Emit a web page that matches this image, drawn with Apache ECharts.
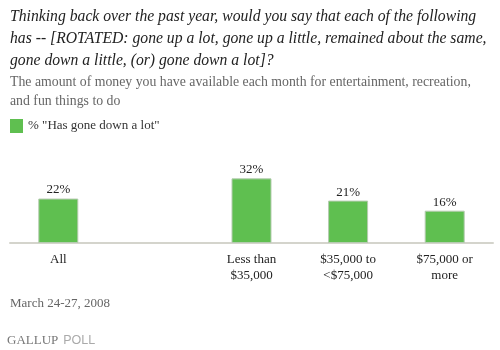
<!DOCTYPE html>
<html>
<head>
<meta charset="utf-8">
<script src="https://cdn.jsdelivr.net/npm/echarts@6/dist/echarts.min.js"></script>
<style>
  html, body { margin: 0; padding: 0; background: #fff; }
  #chart { width: 500px; height: 350px; }
</style>
</head>
<body>
<div id="chart"></div>
<script>
// categories (blank slot keeps the gap after "All")
const categories = ["All", "", "Less than\n$35,000", "$35,000 to\n<$75,000", "$75,000 or\nmore"];
const downALot = [22, null, 32, 21, 16];
const seriesName = '% "Has gone down a lot"';

const serif = "'Liberation Serif', 'DejaVu Serif', serif";

const chart = echarts.init(document.getElementById("chart"));
const option = {
    animation: false,
    title: [{
        text: "Thinking back over the past year, would you say that each of the following\nhas -- [ROTATED: gone up a lot, gone up a little, remained about the same,\ngone down a little, (or) gone down a lot]?",
        left: 10,
        top: 6,
        padding: 0,
        textStyle: {
            fontFamily: serif,
            fontStyle: "italic",
            fontWeight: "normal",
            fontSize: 15.7,
            lineHeight: 22,
            color: "#222"
        }
    }, {
        text: "The amount of money you have available each month for entertainment, recreation,\nand fun things to do",
        left: 10,
        top: 73,
        padding: 0,
        textStyle: {
            fontFamily: serif,
            fontWeight: "normal",
            fontSize: 13.8,
            lineHeight: 19,
            color: "#666"
        }
    }, {
        text: "March 24-27, 2008",
        left: 10,
        top: 297,
        padding: 0,
        textStyle: {
            fontFamily: serif,
            fontWeight: "normal",
            fontSize: 13,
            color: "#666"
        }
    }, {
        text: "{a|GALLUP} {b|POLL}",
        left: 7,
        top: 332,
        padding: 0,
        textStyle: {
            fontWeight: "normal",
            rich: {
                a: { fontFamily: "'Liberation Serif', serif", fontWeight: "normal", fontSize: 13, color: "#777" },
                b: { fontFamily: "'Liberation Sans', sans-serif", fontWeight: "normal", fontSize: 12.5, color: "#aaa" }
            }
        }
    }],
    legend: {
        left: 10,
        top: 119,
        padding: 0,
        itemWidth: 13,
        itemHeight: 14,
        icon: "rect",
        itemGap: 8,
        itemStyle: { borderWidth: 0 },
        textStyle: { fontFamily: serif, fontSize: 13, color: "#333" },
        data: [seriesName]
    },
    grid: { left: 10, right: 7, top: 142, bottom: 107 },
    xAxis: {
        type: "category",
        data: categories,
        axisLine: { lineStyle: { color: "#d4d4cc", width: 2 } },
        axisTick: { show: false },
        axisLabel: {
            fontFamily: serif,
            fontSize: 13,
            lineHeight: 16,
            color: "#222",
            margin: 9,
            interval: 0
        }
    },
    yAxis: {
        type: "value",
        min: 0,
        max: 50,
        show: false,
        splitLine: { show: false }
    },
    series: [{
        name: seriesName,
        type: "bar",
        data: downALot,
        barWidth: 40,
        itemStyle: { color: "#5fbf50", borderColor: "#b5cbb0", borderWidth: 1 },
        label: {
            show: true,
            position: "top",
            distance: 2,
            formatter: "{c}%",
            fontFamily: serif,
            fontSize: 13,
            color: "#222"
        }
    }]
};
chart.setOption(option);
</script>
</body>
</html>
